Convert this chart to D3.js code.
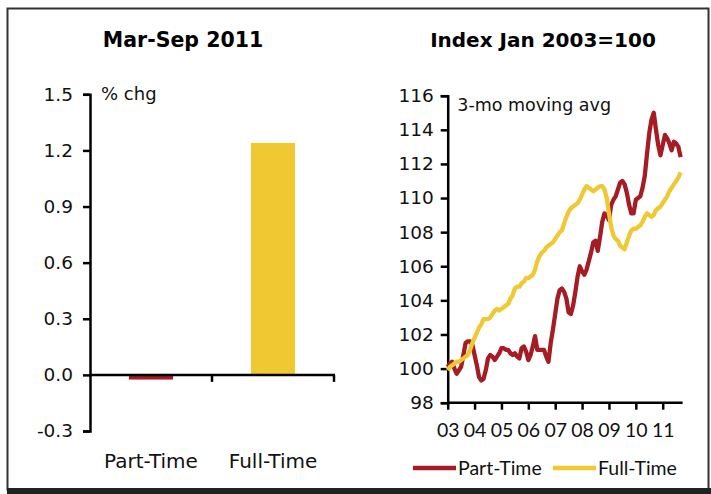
<!DOCTYPE html>
<html>

<head>
  <meta charset="UTF-8" />
  <title>Part-Time vs Full-Time</title>
  <style>
    body {
      margin: 0;
      background: white;
    }

    svg {
      display: block;
      font-family: "DejaVu Sans", Verdana, sans-serif;
    }
  </style>
  <script src="https://d3js.org/d3.v7.min.js"></script>
</head>

<body>
  <script>
    /* Left panel: % change Mar-Sep 2011 */
    let barCategories = ["Part-Time", "Full-Time"];
    let barValues = [-0.025, 1.24];
    let barTicks = [-0.3, 0.0, 0.3, 0.6, 0.9, 1.2, 1.5];

    /* Right panel: index Jan 2003=100, 3-mo moving avg, monthly Jan 2003 - Sep 2011 */
    let yearLabels = ["03", "04", "05", "06", "07", "08", "09", "10", "11"];
    let indexTicks = [98, 100, 102, 104, 106, 108, 110, 112, 114, 116];
    let partTime = [
      100.1, 100.3, 100.4, 100.0, 99.7, 99.9, 100.1, 100.8, 101.5, 101.6, 101.6, 101.4,
      100.8, 100.2, 99.5, 99.3, 99.4, 99.9, 100.6, 100.8, 100.7, 100.5, 100.7, 100.9,
      101.2, 101.2, 101.1, 101.1, 100.9, 100.8, 100.9, 100.7, 100.6, 101.2, 101.3, 101.0,
      100.5, 100.8, 101.3, 101.9, 101.1, 101.1, 101.1, 101.1, 100.7, 100.4, 101.5, 102.3,
      103.2, 104.1, 104.6, 104.7, 104.5, 104.1, 103.3, 103.2, 103.7, 104.5, 105.4, 106.0,
      105.7, 105.5, 105.8, 106.3, 106.8, 107.4, 107.5, 106.9, 107.7, 108.6, 109.1, 109.0,
      108.7, 109.6, 109.9, 110.1, 110.5, 110.9, 111.0, 110.8, 110.3, 109.6, 109.1, 109.1,
      109.9, 110.0, 110.1, 110.6, 111.3, 112.6, 113.8, 114.6, 115.0, 114.0, 113.1, 112.5,
      113.1, 113.7, 113.5, 113.2, 112.8, 113.3, 113.2, 113.0, 112.4
    ];
    let fullTime = [
      99.9, 100.1, 100.2, 100.3, 100.4, 100.4, 100.5, 100.6, 100.7, 100.8, 101.1, 101.5,
      101.8, 102.1, 102.4, 102.6, 102.9, 102.9, 102.9, 103.0, 103.2, 103.4, 103.5, 103.4,
      103.5, 103.6, 103.7, 103.8, 104.1, 104.3, 104.7, 104.8, 104.8, 105.0, 105.1, 105.3,
      105.3, 105.4, 105.5, 105.8, 106.3, 106.6, 106.8, 106.9, 107.1, 107.2, 107.3, 107.4,
      107.6, 107.8, 108.0, 108.1, 108.5, 108.9, 109.2, 109.4, 109.5, 109.6, 109.7, 109.9,
      110.2, 110.5, 110.7, 110.6, 110.5, 110.4, 110.5, 110.6, 110.7, 110.7, 110.5, 110.0,
      109.1, 108.3, 107.8, 107.6, 107.5, 107.2, 107.1, 107.0, 107.4, 107.8, 108.1, 108.2,
      108.2, 108.3, 108.4, 108.6, 108.9, 109.1, 109.0, 108.9, 109.0, 109.3, 109.4, 109.5,
      109.7, 109.9, 110.1, 110.4, 110.6, 110.8, 111.0, 111.2, 111.5
    ];

    let red = "#a61c24";
    let yellow = "#efc832";
    let width = 711;
    let height = 494;

    let svg = d3.select("body")
      .append("svg")
      .attr("width", width)
      .attr("height", height);

    /* Frame with heavy bottom edge */
    svg.append("rect")
      .attr("x", 7.5).attr("y", 8.5)
      .attr("width", 701).attr("height", 481)
      .attr("fill", "white")
      .attr("stroke", "#333")
      .attr("stroke-width", 2);
    svg.append("rect")
      .attr("x", 7).attr("y", 488)
      .attr("width", 704).attr("height", 6)
      .attr("fill", "#222");

    /* ---------- Left panel ---------- */
    let yBar = d3.scaleLinear().domain([-0.3, 1.5]).range([431, 94.3]);
    let xBar = d3.scaleBand().domain(barCategories).range([90, 334]).padding(0);
    let barW = 44;

    svg.append("text")
      .attr("x", 183).attr("y", 47)
      .attr("text-anchor", "middle")
      .attr("font-weight", "bold")
      .attr("font-size", 20.5)
      .text("Mar-Sep 2011");

    svg.append("g")
      .attr("transform", "translate(90,0)")
      .call(d3.axisLeft(yBar).tickValues(barTicks).tickFormat((d) => d.toFixed(1)).tickSizeOuter(0).tickSize(7).tickPadding(10))
      .call(g => g.select(".domain").attr("stroke-width", 2.5))
      .call(g => g.selectAll(".tick line").attr("stroke-width", 2.5))
      .call(g => g.selectAll(".tick text").attr("font-size", 18.5).attr("font-family", "DejaVu Sans").attr("fill", "#111"));

    svg.append("g")
      .selectAll("rect")
      .data(barCategories)
      .enter()
      .append("rect")
      .attr("x", (d) => xBar(d) + xBar.bandwidth() / 2 - barW / 2)
      .attr("width", barW)
      .attr("y", (d, i) => yBar(Math.max(0, barValues[i])))
      .attr("height", (d, i) => Math.abs(yBar(barValues[i]) - yBar(0)))
      .attr("fill", (d, i) => i === 0 ? red : yellow);

    /* zero line with category boundary ticks */
    svg.append("line")
      .attr("x1", 90).attr("x2", xBar.range()[1] + 1)
      .attr("y1", yBar(0)).attr("y2", yBar(0))
      .attr("stroke", "black").attr("stroke-width", 2.5);
    svg.append("g")
      .selectAll("line")
      .data(barCategories)
      .enter()
      .append("line")
      .attr("x1", (d) => xBar(d) + xBar.step()).attr("x2", (d) => xBar(d) + xBar.step())
      .attr("y1", yBar(0)).attr("y2", yBar(0) + 7)
      .attr("stroke", "black").attr("stroke-width", 2.5);

    svg.append("g")
      .selectAll("text")
      .data(barCategories)
      .enter()
      .append("text")
      .attr("x", (d) => xBar(d) + xBar.bandwidth() / 2)
      .attr("y", 468)
      .attr("text-anchor", "middle")
      .attr("font-size", 20)
      .attr("fill", "#111")
      .text((d) => d);

    svg.append("text")
      .attr("x", 101).attr("y", 100)
      .attr("font-size", 18)
      .attr("fill", "#111")
      .text("% chg");

    /* ---------- Right panel ---------- */
    let xLine = d3.scaleLinear().domain([0, 12 * 8]).range([447.7, 662.7]);
    let yLine = d3.scaleLinear().domain([98, 116]).range([402.7, 95.7]);

    svg.append("text")
      .attr("x", 543).attr("y", 47)
      .attr("text-anchor", "middle")
      .attr("font-weight", "bold")
      .attr("font-size", 20)
      .text("Index Jan 2003=100");

    svg.append("g")
      .attr("transform", "translate(447.7,0)")
      .call(d3.axisLeft(yLine).tickValues(indexTicks).tickSizeOuter(0).tickSize(7).tickPadding(7))
      .call(g => g.select(".domain").attr("stroke-width", 2.5))
      .call(g => g.selectAll(".tick line").attr("stroke-width", 2.5))
      .call(g => g.selectAll(".tick text").attr("font-size", 18.5).attr("font-family", "DejaVu Sans").attr("fill", "#111"));

    let xAxisScale = d3.scaleLinear().domain([0, 8]).range([447.7, 662.7]);
    svg.append("g")
      .attr("transform", `translate(0,${yLine(98)})`)
      .call(d3.axisBottom(xAxisScale).tickValues(d3.range(9)).tickFormat((d) => yearLabels[d]).tickSizeOuter(0).tickSize(7).tickPadding(13))
      .call(g => g.select(".domain").attr("d", `M447.7,0H${xLine(partTime.length - 1) + 2}`).attr("stroke-width", 2.5))
      .call(g => g.selectAll(".tick line").attr("stroke-width", 2.5))
      .call(g => g.selectAll(".tick text").attr("font-size", 19.5).attr("font-family", "Lato").attr("fill", "#111"));

    svg.append("text")
      .attr("x", 457.3).attr("y", 110.5)
      .attr("font-size", 17.5)
      .attr("fill", "#111")
      .text("3-mo moving avg");

    let line = d3.line()
      .x((d, i) => xLine(i))
      .y((d) => yLine(d));

    svg.append("path")
      .datum(partTime)
      .attr("d", line)
      .attr("fill", "none")
      .attr("stroke", red)
      .attr("stroke-width", 4.3)
      .attr("stroke-linejoin", "round");

    svg.append("path")
      .datum(fullTime)
      .attr("d", line)
      .attr("fill", "none")
      .attr("stroke", yellow)
      .attr("stroke-width", 4.3)
      .attr("stroke-linejoin", "round");

    /* Legend */
    let legendItems = [
      { name: "Part-Time", color: red, x: 413 },
      { name: "Full-Time", color: yellow, x: 553 }
    ];
    let legend = svg.append("g")
      .selectAll("g")
      .data(legendItems)
      .enter()
      .append("g")
      .attr("transform", (d) => `translate(${d.x},468)`);
    legend.append("line")
      .attr("x1", 0).attr("x2", 43)
      .attr("stroke", (d) => d.color)
      .attr("stroke-width", 4.5);
    legend.append("text")
      .attr("x", 45).attr("y", 7)
      .attr("font-size", 19.5)
      .attr("font-family", "Lato")
      .attr("fill", "#111")
      .text((d) => d.name);
  </script>
</body>

</html>
